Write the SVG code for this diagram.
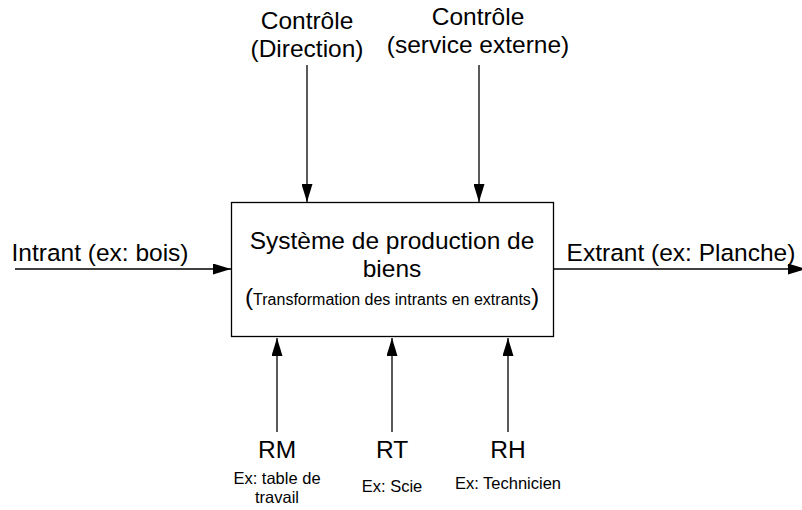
<svg xmlns="http://www.w3.org/2000/svg" width="802" height="510" viewBox="0 0 802 510">
<style>
text{font-family:"Liberation Sans",Arial,sans-serif;fill:#000;text-anchor:middle}
.big{font-size:24.5px}
.sm{font-size:16.5px}
.tr{font-size:16px}
.ln{stroke:#000;stroke-width:1.3;fill:none}
</style>
<defs>
<marker id="ah" markerWidth="18" markerHeight="11" refX="18" refY="5.5" orient="auto" markerUnits="userSpaceOnUse">
<path d="M0,0 L18,5.5 L0,11 Z" fill="#000"/>
</marker>
</defs>
<rect width="802" height="510" fill="#fff"/>
<g id="connectors">
<line class="ln" x1="307" y1="65" x2="307" y2="202" marker-end="url(#ah)"/>
<line class="ln" x1="479" y1="65" x2="479" y2="202" marker-end="url(#ah)"/>
<line class="ln" x1="15" y1="269" x2="231" y2="269" marker-end="url(#ah)"/>
<line class="ln" x1="554" y1="269" x2="806" y2="269" marker-end="url(#ah)"/>
<line class="ln" x1="277" y1="432" x2="277" y2="338" marker-end="url(#ah)"/>
<line class="ln" x1="392" y1="432" x2="392" y2="338" marker-end="url(#ah)"/>
<line class="ln" x1="508" y1="432" x2="508" y2="338" marker-end="url(#ah)"/>
</g>
<g id="system">
<rect x="231.5" y="202.5" width="322" height="134" fill="#fff" stroke="#000" stroke-width="1.3"/>
<text class="big" x="392" y="249">Système de production de</text>
<text class="big" x="392" y="277">biens</text>
<text x="392" y="305"><tspan class="big">(</tspan><tspan class="tr">Transformation des intrants en extrants</tspan><tspan class="big">)</tspan></text>
</g>
<g id="ctrl-direction">
<text class="big" x="307" y="29">Contrôle</text>
<text class="big" x="307" y="57">(Direction)</text>
</g>
<g id="ctrl-externe">
<text class="big" x="478" y="25">Contrôle</text>
<text class="big" x="478" y="53">(service externe)</text>
</g>
<g id="intrant">
<text class="big" x="100" y="261">Intrant (ex: bois)</text>
</g>
<g id="extrant">
<text class="big" x="681" y="261">Extrant (ex: Planche)</text>
</g>
<g id="rm">
<text class="big" x="277" y="458">RM</text>
<text class="sm" x="277" y="484">Ex: table de</text>
<text class="sm" x="277" y="503">travail</text>
</g>
<g id="rt">
<text class="big" x="392" y="458">RT</text>
<text class="sm" x="392" y="492">Ex: Scie</text>
</g>
<g id="rh">
<text class="big" x="508" y="458">RH</text>
<text class="sm" x="508" y="489">Ex: Technicien</text>
</g>
</svg>
